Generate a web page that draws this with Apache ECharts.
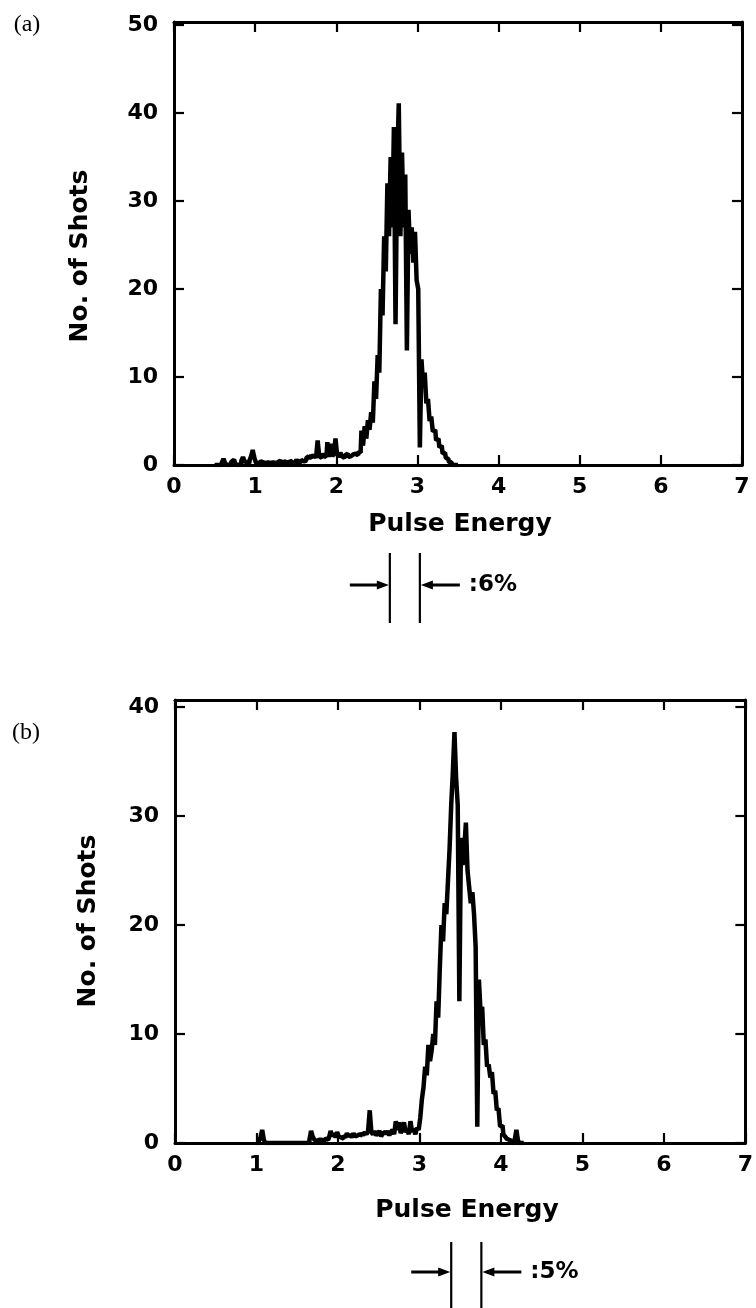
<!DOCTYPE html>
<html><head><meta charset="utf-8">
<script src="https://cdn.jsdelivr.net/npm/echarts@6/dist/echarts.min.js"></script>
<style>html,body{margin:0;padding:0;background:#fff}#c{width:756px;height:1308px}</style>
</head><body><div id="c"></div><script>
// ---- data ----
const binWidth = 0.02;
const energyStartA = 0.50;   // panel (a) first bin centre
const countsA = [
  0, 0, 0, 0, 0, 0.3, 0.7, 0.2, 0, 0,
  0.2, 0.4, 0.6, 0.3, 0, 0, 0.2, 0.5, 0.9, 0.4,
  0.3, 0.2, 0.5, 1.0, 1.7, 0.8, 0.3, 0.2, 0.4, 0.6,
  0.3, 0.2, 0.2, 0.3, 0.2, 0.2, 0.3, 0.2, 0.2, 0.3,
  0.5, 0.3, 0.2, 0.4, 0.3, 0.2, 0.2, 0.5, 0.3, 0.2,
  0.4, 0.6, 0.3, 0.3, 0.6, 0.4, 0.5, 0.8, 1.0, 0.7,
  1.1, 0.9, 1.2, 0.8, 2.8, 1.0, 0.8, 1.3, 0.9, 1.1,
  2.6, 0.9, 2.4, 1.0, 1.3, 3.0, 1.2, 0.9, 1.4, 1.0,
  0.8, 1.1, 1.3, 0.9, 1.0, 1.2, 1.0, 1.3, 1.1, 1.5,
  1.4, 3.9, 2.2, 4.4, 3.0, 5.1, 4.0, 6.0, 4.8, 9.5,
  7.5, 12.5, 10.5, 20.0, 17.0, 26.0, 22.0, 32.0, 26.0, 35.0,
  27.0, 38.4, 16.0, 34.0, 41.1, 26.0, 35.5, 27.0, 33.0, 13.0,
  29.0, 24.0, 27.0, 23.0, 26.5, 21.0, 20.0, 2.0, 12.0, 9.0,
  10.5, 7.0, 7.5, 5.0, 5.5, 3.8, 4.0, 2.8, 3.0, 2.0,
  2.2, 1.3, 1.4, 0.8, 0.7, 0.3, 0.3, 0, 0, 0,
  0
];
const energyStartB = 1.00;   // panel (b) first bin centre
const countsB = [
  0, 0, 0.2, 0.5, 1.2, 0.3, 0, 0, 0, 0,
  0, 0, 0, 0, 0, 0, 0, 0, 0, 0,
  0, 0, 0, 0, 0, 0, 0, 0, 0, 0,
  0, 0, 0.1, 0.3, 1.1, 0.6, 0.3, 0.2, 0.3, 0.2,
  0.3, 0.2, 0.3, 0.4, 0.3, 0.5, 1.1, 0.6, 0.9, 0.5,
  1.0, 0.6, 0.5, 0.4, 0.7, 0.5, 0.9, 0.6, 0.8, 0.5,
  0.9, 0.6, 0.7, 0.8, 0.6, 0.9, 0.7, 1.0, 0.8, 1.1,
  3.0, 1.0, 0.8, 1.1, 0.7, 0.9, 1.1, 0.6, 0.9, 1.0,
  0.8, 1.1, 0.7, 1.0, 1.2, 0.8, 2.0, 1.2, 1.9, 0.9,
  1.3, 1.9, 1.0, 1.2, 0.8, 2.0, 1.0, 1.3, 0.8, 1.4,
  1.2, 2.3, 4.0, 5.1, 7.0, 6.2, 9.0, 7.5, 8.5, 10.0,
  9.0, 13.0, 11.5, 16.0, 20.0, 18.5, 22.0, 21.0, 24.0, 27.0,
  31.0, 34.0, 37.7, 33.5, 31.0, 13.0, 28.0, 25.5, 27.0, 29.4,
  25.0, 23.5, 22.0, 23.0, 21.0, 18.0, 1.5, 15.0, 12.0, 12.5,
  9.0, 9.5, 7.0, 7.2, 6.0, 6.5, 4.5, 4.8, 3.0, 3.2,
  1.5, 1.6, 0.8, 0.6, 0.4, 0.3, 0.2, 0, 0, 0.3,
  1.2, 0.2, 0, 0, 0
];
const yTicksA = [0, 10, 20, 30, 40, 50];
const yTicksB = [0, 10, 20, 30, 40];
const fwhmA = [2.66, 3.03];
const fwhmB = [3.39, 3.76];
const fwhmTextA = ':6%';
const fwhmTextB = ':5%';
const panelLabels = ['(a)', '(b)'];
const xName = 'Pulse Energy';
const yName = 'No. of Shots';

function pairs(start, counts) {
  return counts.map((c, i) => [+(start + i * binWidth).toFixed(2), c]);
}

const FONT = '"DejaVu Sans", sans-serif';
const lineS = {color: '#000', width: 3};
const tickS = {color: '#000', width: 2.2};

function xAx(grid, pos, labels) {
  return {type: 'value', gridIndex: grid, position: pos, min: 0, max: 7, interval: 1,
    axisLine: {show: true, onZero: false, lineStyle: lineS},
    axisTick: {show: true, inside: true, length: 10, lineStyle: tickS},
    axisLabel: {show: labels, color: '#000', fontFamily: FONT, fontWeight: 'bold', fontSize: 22, margin: 11},
    splitLine: {show: false}};
}
function yAx(grid, pos, labels, max, ticks) {
  return {type: 'value', gridIndex: grid, position: pos, min: 0, max: max,
    axisLine: {show: true, onZero: false, lineStyle: lineS},
    axisTick: {show: true, inside: true, length: 10, customValues: ticks, lineStyle: tickS},
    axisLabel: {show: labels, customValues: ticks, color: '#000', fontFamily: FONT, fontWeight: 'bold', fontSize: 22, margin: 16},
    splitLine: {show: false}};
}

const chart = echarts.init(document.getElementById('c'), null, {renderer: 'canvas'});
chart.setOption({
  animation: false,
  backgroundColor: '#fff',
  grid: [
    {left: 174, top: 22, width: 568, height: 443},
    {left: 175, top: 700, width: 572, height: 443}
  ],
  xAxis: [xAx(0, 'bottom', true), xAx(0, 'top', false), xAx(1, 'bottom', true), xAx(1, 'top', false)],
  yAxis: [yAx(0, 'left', true, 50.34, yTicksA), yAx(0, 'right', false, 50.34, yTicksA),
          yAx(1, 'left', true, 40.64, yTicksB), yAx(1, 'right', false, 40.64, yTicksB)],
  series: [
    {type: 'line', xAxisIndex: 0, yAxisIndex: 0, data: pairs(energyStartA, countsA), step: 'middle',
     symbol: 'none', lineStyle: {color: '#000', width: 4.5, join: 'bevel', cap: 'butt'}, z: 3},
    {type: 'line', xAxisIndex: 2, yAxisIndex: 2, data: pairs(energyStartB, countsB), step: 'middle',
     symbol: 'none', lineStyle: {color: '#000', width: 4.5, join: 'bevel', cap: 'butt'}, z: 3}
  ]
});

function annot(xAxisIndex, fwhm, txt, yTop, yBot, yArr) {
  const x1 = chart.convertToPixel({xAxisIndex: xAxisIndex}, fwhm[0]);
  const x2 = chart.convertToPixel({xAxisIndex: xAxisIndex}, fwhm[1]);
  const st = {stroke: '#000', lineWidth: 2.2};
  return [
    {type: 'line', shape: {x1: x1, y1: yTop, x2: x1, y2: yBot}, style: st},
    {type: 'line', shape: {x1: x2, y1: yTop, x2: x2, y2: yBot}, style: st},
    {type: 'line', shape: {x1: x1 - 40, y1: yArr, x2: x1 - 6, y2: yArr}, style: {stroke: '#000', lineWidth: 2.8}},
    {type: 'polygon', shape: {points: [[x1 - 1, yArr], [x1 - 13, yArr - 4.5], [x1 - 13, yArr + 4.5]]}, style: {fill: '#000'}},
    {type: 'line', shape: {x1: x2 + 6, y1: yArr, x2: x2 + 40, y2: yArr}, style: {stroke: '#000', lineWidth: 2.8}},
    {type: 'polygon', shape: {points: [[x2 + 1, yArr], [x2 + 13, yArr - 4.5], [x2 + 13, yArr + 4.5]]}, style: {fill: '#000'}},
    {type: 'text', x: x2 + 49, y: yArr, style: {text: txt, fill: '#000', font: 'bold 23px ' + FONT, align: 'left', verticalAlign: 'middle'}}
  ];
}
function txt(t, x, y, font, rot) {
  return {type: 'text', x: x, y: y, rotation: rot || 0,
    style: {text: t, fill: '#000', font: font, align: 'center', verticalAlign: 'middle'}};
}
const serif = '24px "Liberation Serif", serif';
const axName = 'bold 25px ' + FONT;
chart.setOption({graphic: [].concat(
  [txt(panelLabels[0], 27, 25, serif), txt(panelLabels[1], 26, 733, serif),
   txt(yName, 80, 256, axName, Math.PI / 2), txt(yName, 88, 921, axName, Math.PI / 2),
   txt(xName, 460, 524, axName), txt(xName, 467, 1210, axName)],
  annot(0, fwhmA, fwhmTextA, 553, 623, 585),
  annot(2, fwhmB, fwhmTextB, 1242, 1308, 1272)
)});
</script></body></html>
